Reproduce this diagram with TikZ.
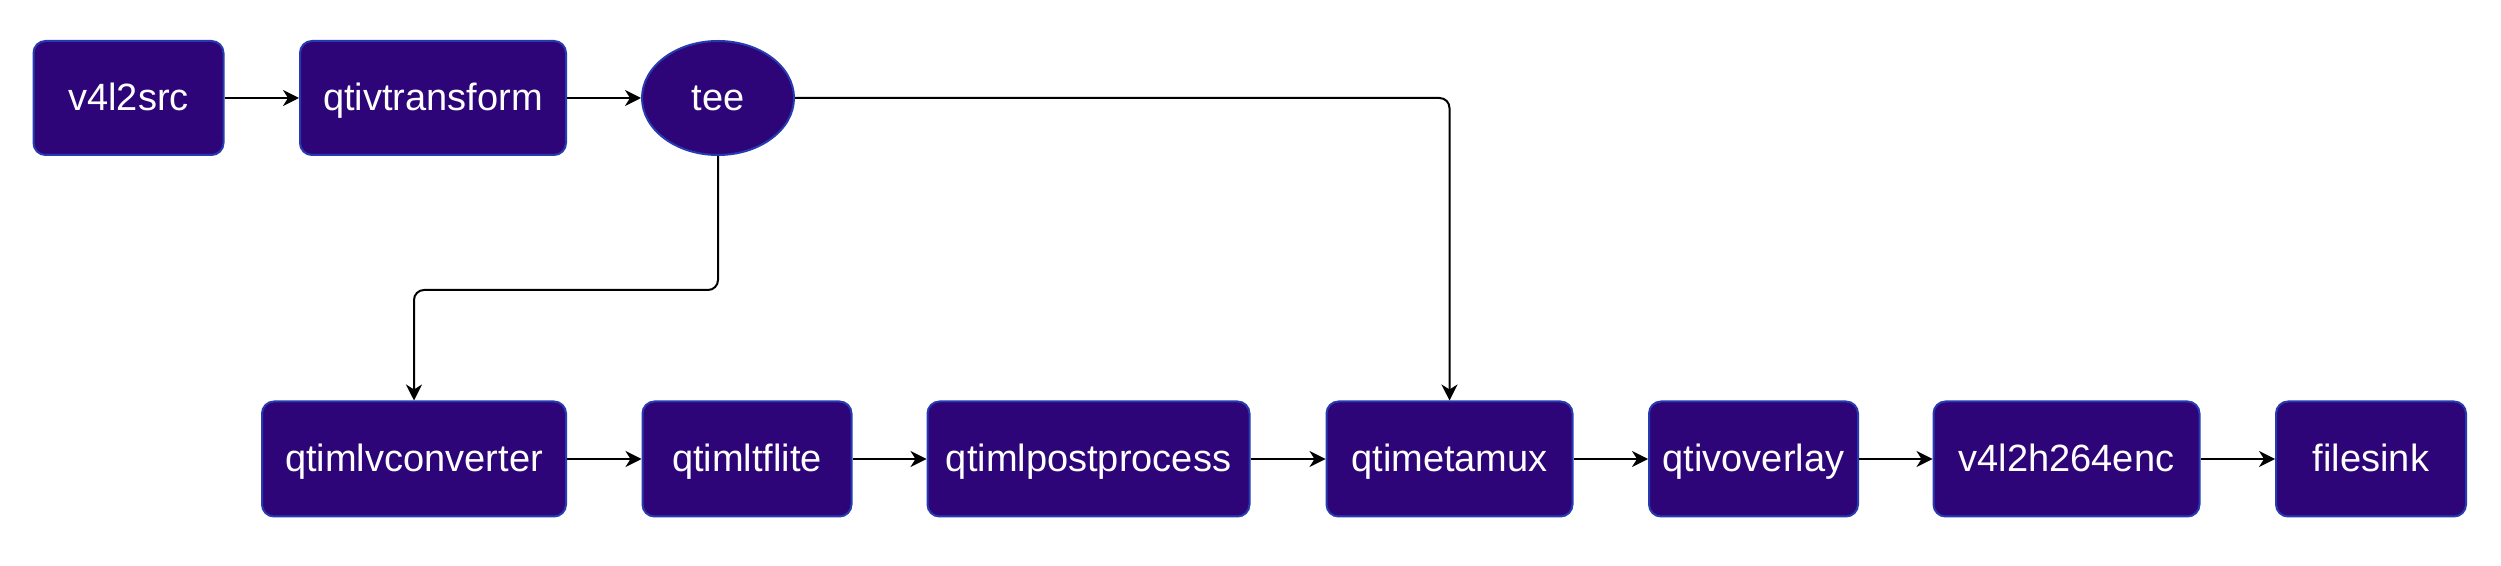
\documentclass[tikz,border=0pt]{standalone}
\usepackage{fontspec}
\setmainfont{Liberation Sans}
\usetikzlibrary{arrows.meta,shapes.geometric}
\definecolor{boxfill}{RGB}{46,5,120}
\definecolor{boxline}{RGB}{38,58,178}
\tikzset{
  elem/.style={draw=boxline, fill=boxfill, line width=1pt, rounded corners=6pt,
    text=white, font=\fontsize{19}{22}\selectfont, inner sep=0pt, anchor=center,
    text height=15pt, text depth=2pt},
  teeshape/.style={ellipse, draw=boxline, fill=boxfill, line width=1pt,
    text=white, font=\fontsize{19}{22}\selectfont, inner sep=0pt,
    text height=15pt, text depth=2pt},
  flow/.style={line width=1pt, -{Stealth[length=8pt,width=8pt,inset=2.5pt]}, rounded corners=5pt},
}
\begin{document}
\begin{tikzpicture}[x=0.5pt,y=-0.5pt]
\useasboundingbox (0,0) rectangle (2501,566);
% top row
\node[elem, minimum width=95pt, minimum height=57pt] (src) at (128.5,98) {v4l2src};
\node[elem, minimum width=133pt, minimum height=57pt] (tr) at (433,98) {qtivtransform};
\node[teeshape, minimum width=76pt, minimum height=57pt] (tee) at (718,98) {tee};
% bottom row
\node[elem, minimum width=152pt, minimum height=57.5pt] (conv) at (414,459) {qtimlvconverter};
\node[elem, minimum width=104.5pt, minimum height=57.5pt] (tfl) at (747,459) {qtimltflite};
\node[elem, minimum width=161pt, minimum height=57.5pt] (post) at (1088.5,459) {qtimlpostprocess};
\node[elem, minimum width=123pt, minimum height=57.5pt] (mux) at (1449.5,459) {qtimetamux};
\node[elem, minimum width=104.5pt, minimum height=57.5pt] (ovl) at (1753.5,459) {qtivoverlay};
\node[elem, minimum width=133pt, minimum height=57.5pt] (enc) at (2066.5,459) {v4l2h264enc};
\node[elem, minimum width=95pt, minimum height=57.5pt] (sink) at (2371,459) {filesink};
% connectors
\draw[flow] (src) -- (tr);
\draw[flow] (tr) -- (tee);
\draw[flow] (tee.east) -| (mux.north);
\draw[flow] (tee.south) |- (414,290) -- (conv.north);
\draw[flow] (conv) -- (tfl);
\draw[flow] (tfl) -- (post);
\draw[flow] (post) -- (mux);
\draw[flow] (mux) -- (ovl);
\draw[flow] (ovl) -- (enc);
\draw[flow] (enc) -- (sink);
\end{tikzpicture}
\end{document}
